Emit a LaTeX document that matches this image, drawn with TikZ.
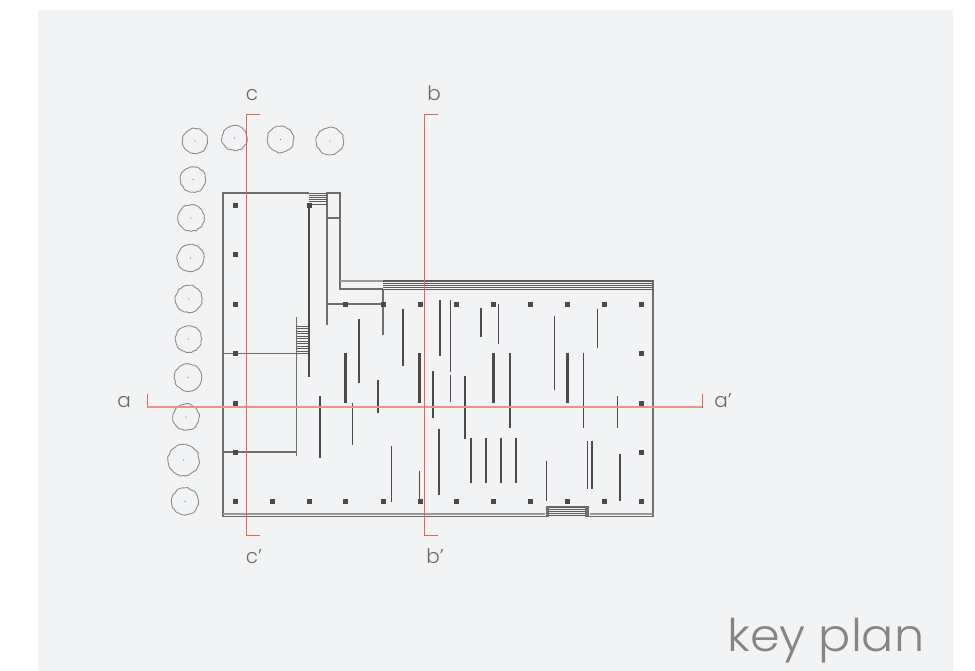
\documentclass[tikz,border=0pt]{standalone}
\usepackage{fontspec}
\setmainfont[UprightFont=* Light]{Poppins}
\usetikzlibrary{decorations.pathmorphing}
\definecolor{panelgray}{HTML}{F2F3F5}
\definecolor{walldark}{HTML}{4A4A4A}
\definecolor{sectionred}{HTML}{E2664A}
\definecolor{labelgray}{HTML}{6A6A6A}
\definecolor{titlegray}{HTML}{858585}
\tikzset{
  outline/.style={line width=1.1pt, color=walldark!80},
  stairline/.style={line width=1pt, color=walldark!90},
  sectionline/.style={line width=1pt, color=sectionred},
  treeline/.style={line width=0.9pt, color=black!45, decorate, decoration={random steps, segment length=2.5pt, amplitude=0.6pt}},
  column/.style={fill=walldark},
  seclabel/.style={anchor=base, inner sep=0pt, text=labelgray, font=\fontsize{20}{22}\selectfont}
}
\begin{document}
\begin{tikzpicture}[x=1pt, y=-1pt]
 \useasboundingbox (0,0) rectangle (975,671);
 \fill[white] (0,0) rectangle (975,671);
 \fill[panelgray] (38,10) rectangle (953,671);

 %trees
 \pgfmathsetseed{7}
 \foreach \x/\y/\r in {195/141/12.3, 234.6/138/12.5, 280.5/139.5/13, 330/141/13.5, 193/179.5/12.5, 191/218/13, 190.5/258/13.3, 188.7/299/13.3, 188.5/339/13, 188/377.5/13.5, 186/417/13, 183.5/460/15.5, 185/501.5/13.3} {
         \draw[treeline] (\x,\y) circle (\r);
         \fill[black!50] (\x,\y) circle (0.7);
 }

 %outer walls
 \draw[outline] (309,193) -- (223,193) -- (223,516.5) -- (547,516.5) -- (547,507) -- (588,507) -- (588,516.5) -- (653,516.5) -- (653,280);
 \draw[outline, black!40] (223,514) -- (545,514);
 \draw[outline, black!40] (590,514) -- (653,514);
 \draw[outline] (327,325) -- (327,193) -- (340,193) -- (340,289) -- (383,289);
 \draw[outline] (327,218) -- (340,218);
 \draw[line width=2.2pt, black!40] (340,281) -- (383,281);
 \draw[outline] (327,304) -- (383,304);
 \draw[outline] (383,289) -- (383,335);
 \draw[outline] (223,353.5) -- (297,353.5);
 \draw[outline] (223,452) -- (297,452);
 \draw[outline] (296.7,317) -- (296.7,456);
 \draw[line width=1.6pt, color=walldark] (309,205) -- (309,377);

 %stairs
 \foreach \y in {194,196,198,200,202,204.5} {
         \draw[stairline] (309,\y) -- (327,\y);
 }
 \foreach \y in {326,328.5,331,333.5,336,338.5,341,343.5,346,348.5,351,353.5} {
         \draw[stairline] (297,\y) -- (309,\y);
 }
 \foreach \y in {280.5,282,283.5,285.5,287.5,289.5} {
         \draw[stairline] (383,\y) -- (653,\y);
 }
 \foreach \y in {507.5,509.5,511.5,513.5,515.5} {
         \draw[stairline] (548.5,\y) -- (586.5,\y);
 }
 \draw[outline] (548.5,507) -- (548.5,516.5);
 \draw[outline] (586,507) -- (586,516.5);

 %inner walls
 \foreach \x/\ya/\yb/\w in {359/319/383/1.3, 345.3/353/403/2.8, 378/380/413/1.3, 352.3/403/445/1.5, 320/396/458/1.1, 391.7/446/502/1.5, 403/309/366/1.3, 419.3/353/403/2.8, 439.7/300/356/1.6, 450.3/300/372/1.3, 450.3/375/402/1, 433/371/418/1.3, 465/376/439/1.5, 481/308/337/1.3, 498.7/304/344/1.4, 493.3/353/403/2.8, 510/353/428/1.7, 554.3/316/390/1.3, 567.3/353/403/3.2, 583.7/353/428/1.5, 597.7/309/348/1.1, 617.7/396/428/1.4, 419.5/471/501/1.3, 439/429/495/1.5, 471/438/483/1.4, 486/438/483/1.4, 501/438/483/1.6, 516/438/483/1.3, 546.5/461/501/1.3, 587.5/441/489/1.3, 592/441/489/1.6, 620/454/501/1.2} {
         \draw[line width=\w pt, color=walldark] (\x,\ya) -- (\x,\yb);
 }

 %columns
 \foreach \x/\y in {235/206, 235/255, 235/304, 235/353, 235/403, 235/452, 309/206, 641/353, 641/403, 641/452} {
         \fill[column] (\x-2.5,\y-2.5) rectangle (\x+2.5,\y+2.5);
 }
 \foreach \x in {345,383,420,456,493,530,567,604,641} {
         \fill[column] (\x-2.5,301.5) rectangle (\x+2.5,306.5);
 }
 \foreach \x in {235,272,309,345,383,420,456,493,530,567,604,641} {
         \fill[column] (\x-2.5,498.5) rectangle (\x+2.5,503.5);
 }

 %section lines
 \draw[sectionline] (147,394) -- (147,407) -- (702,407) -- (702,394);
 \draw[sectionline, line width=2pt, sectionred!70] (147,407.4) -- (702,407.4);
 \draw[sectionline] (438,115) -- (424.5,115) -- (424.5,535) -- (438,535);
 \draw[sectionline] (260,115) -- (246.5,115) -- (246.5,535) -- (260,535);

 %labels
 \node[seclabel] (labelA) at (124,407) {a};
 \node[seclabel] (labelAp) at (723,407) {a'};
 \node[seclabel] (labelB) at (434,101) {b};
 \node[seclabel] (labelBp) at (435,563) {b'};
 \node[seclabel] (labelC) at (252,101) {c};
 \node[seclabel] (labelCp) at (254,563) {c'};
 \node[anchor=base west, inner sep=0pt, text=titlegray, xscale=1.06, font=\fontsize{45}{50}\selectfont] (keyplan) at (727,651) {key plan};
\end{tikzpicture}
\end{document}
